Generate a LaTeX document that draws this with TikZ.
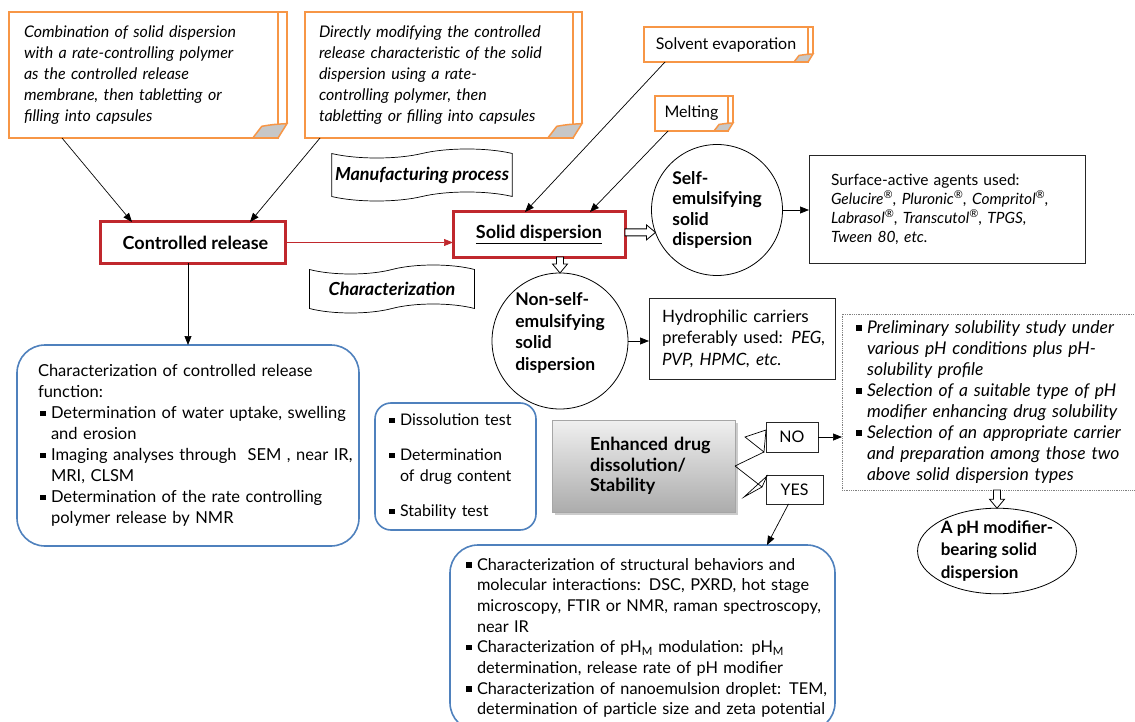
\documentclass[tikz,border=0pt]{standalone}
\usepackage{fontspec}
\setmainfont{Lato}
\usetikzlibrary{arrows.meta,shapes.geometric,shapes.symbols,shadows,calc}

\definecolor{noteorange}{HTML}{F79646}
\definecolor{boxred}{HTML}{C0282D}
\definecolor{roundblue}{HTML}{4F81BD}

\setlength{\parindent}{0pt}
\newcommand{\bul}{\makebox[13pt][l]{\hspace{2pt}\rule[2.5pt]{5.5pt}{5.5pt}}}
\newcommand{\ind}{\hspace*{13pt}}
\newcommand{\reg}{\textsuperscript{\textregistered}}
\newcommand{\nowrap}{\rightskip=0pt plus 1fil minus 100pt\relax}
% strip and curled corner of a note, #1 = node, #2 = size
\newcommand{\pagecurl}[2]{%
  \draw[noteorange, line width=1.5pt] (#1.north east) -- ([shift={(#2,0)}]#1.north east) -- ([shift={(#2,-1.6*#2)}]#1.south east);
  \filldraw[fill=black!22, draw=noteorange, line width=1.5pt] ([shift={(-2.8*#2,0)}]#1.south east) -- ([shift={(-1.8*#2,-1.3*#2)}]#1.south east) .. controls ([shift={(-0.6*#2,-1.5*#2)}]#1.south east) .. ([shift={(#2,-1.6*#2)}]#1.south east) -- (#1.south east) -- cycle;
}
% white block arrow from #1 to #2
\newcommand{\hollowarrow}[2]{%
  \coordinate (ha-b) at ($(#2)!9pt!(#1)$);
  \filldraw[fill=white, draw=black, line width=0.8pt] ($(#1)!3.5pt!90:(#2)$) -- ($(ha-b)!3.5pt!90:(#2)$) -- ($(ha-b)!7.5pt!90:(#2)$) -- (#2) -- ($(ha-b)!7.5pt!-90:(#2)$) -- ($(ha-b)!3.5pt!-90:(#2)$) -- ($(#1)!3.5pt!-90:(#2)$) -- cycle;
}

\begin{document}
\begin{tikzpicture}[
    x=1pt, y=-1pt,
    every node/.style={outer sep=0pt},
    notebox/.style={draw=noteorange, line width=2pt, fill=white, align=left, font=\fontsize{16}{21}\selectfont\itshape},
    plainnote/.style={draw=noteorange, line width=2pt, fill=white, inner sep=0pt, font=\fontsize{16}{21}\selectfont},
    redbox/.style={draw=boxred, line width=3pt, inner sep=0pt, font=\fontsize{18}{21}\selectfont\bfseries},
    roundnode/.style={circle, draw=black, line width=0.8pt, inner sep=0pt, align=left, font=\fontsize{17.5}{20.5}\selectfont\bfseries},
    squarednode/.style={draw=black!85, line width=0.9pt, align=left, font=\fontsize{16}{21}\selectfont},
    bluenode/.style={draw=roundblue, line width=1.6pt, align=left, font=\fontsize{16.3}{21}\selectfont},
    wavenode/.style={tape, draw=black, line width=0.7pt, tape bend height=9pt, font=\fontsize{18}{21}\selectfont\bfseries\itshape},
    conn/.style={-{Triangle[length=9pt,width=7pt]}, line width=0.7pt},
    ]

\useasboundingbox (0,0) rectangle (1135,722);
\clip (0,0) rectangle (1135,722);
\fill[white] (0,0) rectangle (1135,722);

% Notes on top
\node[notebox, anchor=north west, minimum width=269pt, minimum height=126pt, inner xsep=15pt, text width=239pt] (combi) at (9,12) {\nowrap Combination of solid dispersion\\with a rate-controlling polymer\\as the controlled release\\membrane, then tabletting or\\filling into capsules};
\node[notebox, anchor=north west, minimum width=268pt, minimum height=126pt, inner xsep=14pt, text width=240pt] (modify) at (305,12) {\nowrap Directly modifying the controlled\\release characteristic of the solid\\dispersion using a rate-\\controlling polymer, then\\tabletting or filling into capsules};
\node[plainnote, anchor=north west, minimum width=164pt, minimum height=35pt] (solvent) at (644,27) {Solvent evaporation};
\node[plainnote, anchor=north west, minimum width=73pt, minimum height=35pt] (melt) at (655,96) {Melting};
\pagecurl{combi}{9}
\pagecurl{modify}{9}
\pagecurl{solvent}{5}
\pagecurl{melt}{5}

% Wave labels
\node[wavenode, minimum width=176pt, minimum height=52pt] (manu) at (422,175) {Manufacturing process};
\node[wavenode, minimum width=165pt, minimum height=48pt] (charac) at (392,289) {Characterization};

% Main boxes
\node[redbox, anchor=north west, minimum width=185pt, minimum height=41pt] (ctrl) at (100,222) {\hspace*{6pt}Controlled release};
\node[redbox, anchor=north west, minimum width=172pt, minimum height=45pt] (sd) at (453,212) {\underline{Solid dispersion}};

% Solid dispersion types
\node[roundnode, minimum size=131pt] (selfc) at (717,210) {Self-\\emulsifying\\solid\\dispersion};
\node[roundnode, minimum size=136pt, font=\fontsize{17.5}{21.5}\selectfont\bfseries] (nonself) at (560,341) {Non-self-\\emulsifying\\solid\\dispersion\\[-2pt]};
\node[squarednode, anchor=north west, minimum width=276pt, minimum height=108pt, inner xsep=22pt, text width=232pt, font=\fontsize{15.5}{19}\selectfont] (surface) at (809,155) {\nowrap Surface-active agents used:\\\textit{Gelucire\reg, Pluronic\reg, Compritol\reg,}\\\textit{Labrasol\reg, Transcutol\reg, TPGS,}\\\textit{Tween 80, etc.}\\[8pt]};
\node[squarednode, anchor=north west, minimum width=186pt, minimum height=81pt, inner xsep=13pt, text width=160pt, font=\fontsize{17}{21.5}\selectfont] (hydro) at (649,298) {\nowrap Hydrophilic carriers\\preferably used: \textit{PEG,}\\\textit{PVP, HPMC, etc.}\\[10pt]};

% pH modifier branch
\node[draw=gray, densely dotted, line width=0.8pt, anchor=north west, minimum width=300pt, minimum height=176pt, inner xsep=12pt, text width=276pt, align=left, font=\fontsize{17.5}{21}\selectfont\itshape] (dotbox) at (842,314) {\nowrap\bul Preliminary solubility study under\\\ind various pH conditions plus pH-\\\ind solubility profile\\\bul Selection of a suitable type of pH\\\ind modifier enhancing drug solubility\\\bul Selection of an appropriate carrier\\\ind and preparation among those two\\\ind above solid dispersion types\\[-10pt]};
\node[ellipse, draw=black, line width=0.8pt, minimum width=144pt, minimum height=80pt, inner sep=0pt, align=left, font=\fontsize{17}{22.5}\selectfont\bfseries] (phm) at (997,551) {A pH modifier-\\bearing solid\\dispersion};

% Characterization boxes
\node[bluenode, rounded corners=28pt, anchor=north west, minimum width=342pt, minimum height=201pt, inner xsep=21pt, text width=300pt, font=\fontsize{16.5}{21}\selectfont] (crblue) at (17,345) {\nowrap Characterization of controlled release\\function:\\\bul Determination of water uptake, swelling\\\ind and erosion\\\bul Imaging analyses through\ \ SEM , near IR,\\\ind MRI, CLSM\\\bul Determination of the rate controlling\\\ind polymer release by NMR};
\node[bluenode, rounded corners=16pt, anchor=north west, minimum width=161pt, minimum height=127pt, inner xsep=12pt, text width=137pt, font=\fontsize{16}{21}\selectfont] (testblue) at (375,403) {\nowrap\bul Dissolution test\\[14pt]\bul Determination\\\ind of drug content\\[14pt]\bul Stability test\\[-10pt]};
\node[bluenode, rounded corners=28pt, anchor=north west, minimum width=385pt, inner xsep=14pt, inner ysep=13pt, text width=357pt, font=\fontsize{16.3}{20.7}\selectfont] (chblue) at (450,545) {\nowrap\bul Characterization of structural behaviors and\\\ind molecular interactions: DSC, PXRD, hot stage\\\ind microscopy, FTIR or NMR, raman spectroscopy,\\\ind near IR\\\bul Characterization of pH\textsubscript{M} modulation: pH\textsubscript{M}\\\ind determination, release rate of pH modifier\\\bul Characterization of nanoemulsion droplet: TEM,\\\ind determination of particle size and zeta potential\\[30pt]};

% Decision
\node[draw=gray!70, top color=gray!12, bottom color=gray!65, drop shadow={shadow xshift=3pt, shadow yshift=-3pt, opacity=0.4}, anchor=north west, minimum width=183pt, minimum height=92pt, inner xsep=4pt, text width=175pt, align=left, font=\fontsize{18}{20.5}\selectfont\bfseries] (enh) at (552,420) {\hspace*{34pt}Enhanced drug\\\hspace*{34pt}dissolution/\\\hspace*{34pt}Stability\\[4pt]};
\node[squarednode, anchor=north west, minimum width=52pt, minimum height=30pt, inner sep=0pt, align=center] (no) at (766,422) {NO};
\node[squarednode, anchor=north west, minimum width=57pt, minimum height=29pt, inner sep=0pt, align=center] (yes) at (766,475) {YES};
\coordinate (nowedge) at (764,452);
\coordinate (yeswedge) at (762,487);
\filldraw[fill=white, draw=black, line width=0.7pt] (766,430) -- (745,437) -- (nowedge) -- cycle;
\filldraw[fill=white, draw=black, line width=0.7pt] (767,476) -- (744,497) -- (yeswedge) -- cycle;

% Connectors
\draw[conn] ([xshift=53pt]combi.south west) -- ([xshift=32pt]ctrl.north west);
\draw[conn] ([xshift=15pt]modify.south west) -- ([xshift=150pt]ctrl.north west);
\draw[conn] ([xshift=21pt]solvent.south west) -- ([xshift=72pt]sd.north west);
\draw[conn] ([xshift=13pt]melt.south west) -- ([xshift=137pt]sd.north west);
\draw[conn, boxred] (ctrl.east) -- (ctrl.east -| sd.west);
\draw[conn] (crblue.north |- ctrl.south) -- (crblue.north);
\hollowarrow{sd.east |- selfc.200}{selfc.200}
\hollowarrow{nonself.north |- sd.south}{nonself.north}
\draw[conn] (selfc.east) -- (selfc.east -| surface.west);
\draw[conn] (nonself.east) -- (nonself.east -| hydro.west);
\draw[line width=0.7pt] (enh.east) -- (nowedge);
\draw[line width=0.7pt] (enh.east) -- (yeswedge);
\draw[conn] (no.east) -- (no.east -| dotbox.west);
\draw[conn] ([xshift=-6pt]yes.south) -- ([xshift=317pt]chblue.north west);
\hollowarrow{dotbox.south -| phm.north}{phm.north}

\end{tikzpicture}
\end{document}
